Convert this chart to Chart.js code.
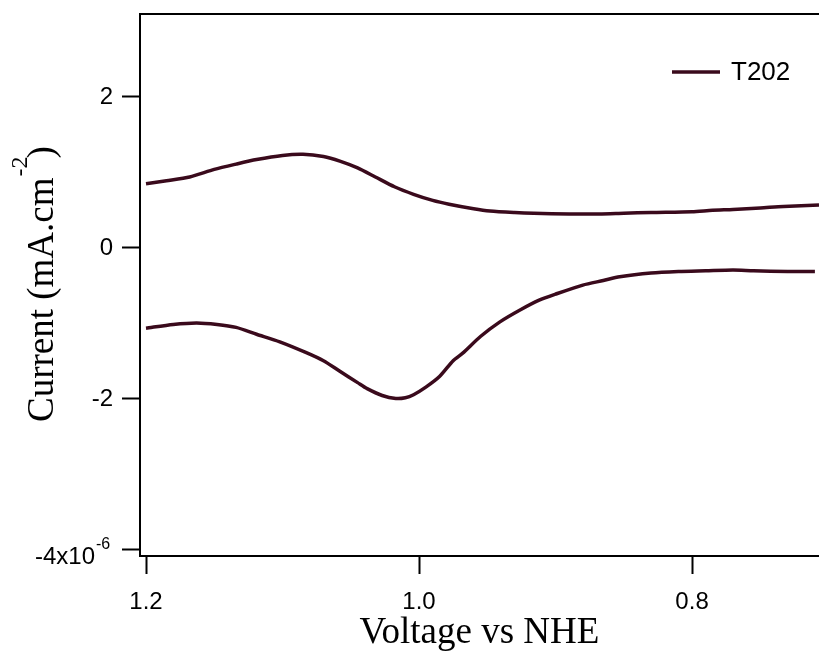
<!DOCTYPE html>
<html>
<head>
<meta charset="utf-8">
<title>T202 voltammogram</title>
<script src="https://cdn.jsdelivr.net/npm/chart.js@4.4.1/dist/chart.umd.min.js"></script>
<style>
  html, body { margin: 0; padding: 0; background: #fff; }
  #wrap { width: 819px; height: 655px; }
</style>
</head>
<body>
<div id="wrap"><canvas id="cv" width="819" height="655"></canvas></div>
<script>
// Upper (anodic) branch, V vs NHE and mA.cm-2
const upperVoltage = [1.200, 1.185, 1.168, 1.150, 1.134, 1.119, 1.100, 1.085, 1.070, 1.058, 1.045, 1.032, 1.018, 1.004,
  0.990, 0.978, 0.960, 0.948, 0.930, 0.916, 0.890, 0.868, 0.850, 0.830, 0.800, 0.785, 0.770, 0.750, 0.733, 0.707];
const upperCurrent = [0.84, 0.88, 0.93, 1.03, 1.10, 1.16, 1.215, 1.23, 1.20, 1.14, 1.05, 0.93, 0.80, 0.70,
  0.62, 0.57, 0.51, 0.48, 0.46, 0.45, 0.44, 0.44, 0.45, 0.46, 0.47, 0.49, 0.50, 0.52, 0.54, 0.56];

// Lower (cathodic) branch
const lowerVoltage = [1.200, 1.180, 1.163, 1.148, 1.134, 1.119, 1.102, 1.083, 1.070, 1.058, 1.045, 1.038, 1.027, 1.017,
  1.010, 1.004, 0.995, 0.985, 0.975, 0.968, 0.955, 0.941, 0.926, 0.912, 0.900, 0.880, 0.865, 0.853, 0.830, 0.810,
  0.790, 0.770, 0.755, 0.730, 0.710];
const lowerCurrent = [-1.07, -1.02, -1.00, -1.02, -1.06, -1.15, -1.25, -1.39, -1.50, -1.64, -1.79, -1.87, -1.96, -2.00,
  -1.99, -1.95, -1.85, -1.71, -1.50, -1.40, -1.18, -0.99, -0.83, -0.70, -0.62, -0.50, -0.44, -0.39, -0.34, -0.32,
  -0.31, -0.30, -0.31, -0.32, -0.32];

const voltageTicks = [1.2, 1.0, 0.8];
const currentTicks = [2, 0, -2, -4];
const seriesLabel = 'T202';
const lineColor = '#3a0a1c';

const sansFont = "'Liberation Sans', Arial, sans-serif";
const serifFont = "'Liberation Serif', 'Times New Roman', serif";

// one dataset, the two branches split by a null point
const points = upperVoltage.map((v, i) => ({ x: v, y: upperCurrent[i] }))
  .concat([{ x: 0.70, y: null }])
  .concat(lowerVoltage.map((v, i) => ({ x: v, y: lowerCurrent[i] })));

// draws the top frame line, y tick labels, y title with superscript and the legend
const igorDecor = {
  id: 'igorDecor',
  afterDraw(chart) {
    const { ctx, chartArea } = chart;
    const yScale = chart.scales.y;
    ctx.save();

    // top frame
    ctx.strokeStyle = '#000';
    ctx.lineWidth = 2;
    ctx.beginPath();
    ctx.moveTo(chartArea.left - 1, chartArea.top);
    ctx.lineTo(chartArea.right, chartArea.top);
    ctx.stroke();

    // y tick labels
    ctx.fillStyle = '#000';
    ctx.textBaseline = 'middle';
    currentTicks.forEach(function(v) {
      const py = yScale.getPixelForValue(v);
      if (v === -4) {
        ctx.font = '24px ' + sansFont;
        ctx.textAlign = 'right';
        ctx.fillText('-4x10', 95, py + 8);
        ctx.font = '16px ' + sansFont;
        ctx.textAlign = 'left';
        ctx.textBaseline = 'alphabetic';
        ctx.fillText('-6', 96, py - 1);
        ctx.textBaseline = 'middle';
      } else {
        ctx.font = '24px ' + sansFont;
        ctx.textAlign = 'right';
        ctx.fillText(String(v), 113, py + 1);
      }
    });

    // y axis title, rotated
    ctx.save();
    ctx.translate(53, 422);
    ctx.rotate(-Math.PI / 2);
    ctx.textAlign = 'left';
    ctx.textBaseline = 'alphabetic';
    ctx.font = '37px ' + serifFont;
    const main = 'Current (mA.cm';
    ctx.fillText(main, 0, 0);
    let u = ctx.measureText(main).width + 1;
    ctx.font = '24px ' + serifFont;
    ctx.fillText('-2', u, -26);
    u += ctx.measureText('-2').width - 2;
    ctx.font = '37px ' + serifFont;
    ctx.fillText(')', u, 0);
    ctx.restore();

    // legend
    const ds = chart.data.datasets[0];
    ctx.strokeStyle = ds.borderColor;
    ctx.lineWidth = 3.5;
    ctx.beginPath();
    ctx.moveTo(672, 72);
    ctx.lineTo(720, 72);
    ctx.stroke();
    ctx.font = '26px ' + sansFont;
    ctx.textAlign = 'left';
    ctx.textBaseline = 'middle';
    ctx.fillText(ds.label, 731, 73);

    ctx.restore();
  }
};

new Chart(document.getElementById('cv'), {
  type: 'line',
  data: {
    datasets: [{
      label: seriesLabel,
      data: points,
      borderColor: lineColor,
      borderWidth: 3.5,
      pointRadius: 0,
      tension: 0.25,
      spanGaps: false,
      fill: false
    }]
  },
  options: {
    responsive: false,
    animation: false,
    devicePixelRatio: 1,
    layout: { padding: { top: 14, left: 0, right: 0, bottom: 0 } },
    plugins: {
      legend: { display: false },
      tooltip: { enabled: false }
    },
    scales: {
      x: {
        type: 'linear',
        reverse: true,
        min: 0.707,
        max: 1.2044,
        afterBuildTicks(scale) { scale.ticks = voltageTicks.map(v => ({ value: v })); },
        afterFit(scale) { scale.height = 99; },
        ticks: {
          color: '#000',
          font: { family: sansFont, size: 24 },
          padding: 14,
          maxRotation: 0,
          callback: v => v.toFixed(1)
        },
        grid: {
          display: true,
          drawOnChartArea: false,
          drawTicks: true,
          tickLength: 18,
          tickWidth: 2,
          tickColor: '#000'
        },
        border: { display: true, color: '#000', width: 2 },
        title: {
          display: true,
          text: 'Voltage vs NHE',
          color: '#000',
          font: { family: serifFont, size: 37 },
          padding: { top: 0, bottom: 0 }
        }
      },
      y: {
        type: 'linear',
        min: -4.083,
        max: 3.085,
        afterBuildTicks(scale) { scale.ticks = currentTicks.map(v => ({ value: v })); },
        afterFit(scale) { scale.width = 140; },
        ticks: { display: false },
        grid: {
          display: true,
          drawOnChartArea: false,
          drawTicks: true,
          tickLength: 18,
          tickWidth: 2,
          tickColor: '#000'
        },
        border: { display: true, color: '#000', width: 2 }
      }
    }
  },
  plugins: [igorDecor]
});
</script>
</body>
</html>
